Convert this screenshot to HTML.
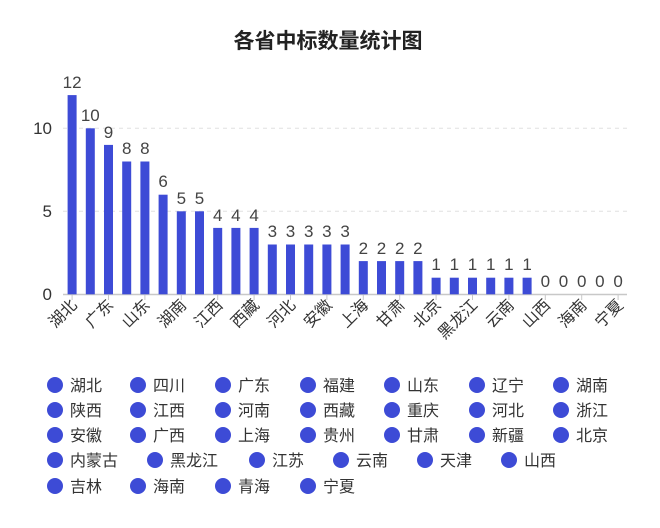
<!DOCTYPE html>
<html><head><meta charset="utf-8"><style>
html,body{margin:0;padding:0;background:#fff;}
svg{display:block;font-family:"Liberation Sans","Noto Sans CJK SC",sans-serif;}
</style></head><body>
<svg width="660" height="528" viewBox="0 0 660 528">
<text x="328" y="48" text-anchor="middle" font-size="21" font-weight="bold" fill="#222">各省中标数量统计图</text>
<g stroke="#e0e0e0" stroke-dasharray="4,4"><line x1="63" y1="128.3" x2="627" y2="128.3"/><line x1="63" y1="211.3" x2="627" y2="211.3"/></g>
<g font-size="17" fill="#333" text-anchor="end"><text x="52" y="300">0</text><text x="52" y="217">5</text><text x="52" y="134">10</text></g>
<line x1="63" y1="294.5" x2="627" y2="294.5" stroke="#c8c8c8" stroke-width="1.5"/>
<g stroke="#c8c8c8">
<line x1="72.1" y1="295" x2="72.1" y2="300"/><line x1="108.5" y1="295" x2="108.5" y2="300"/><line x1="144.9" y1="295" x2="144.9" y2="300"/><line x1="181.3" y1="295" x2="181.3" y2="300"/><line x1="217.7" y1="295" x2="217.7" y2="300"/><line x1="254.1" y1="295" x2="254.1" y2="300"/><line x1="290.5" y1="295" x2="290.5" y2="300"/><line x1="326.9" y1="295" x2="326.9" y2="300"/><line x1="363.3" y1="295" x2="363.3" y2="300"/><line x1="399.7" y1="295" x2="399.7" y2="300"/><line x1="436.1" y1="295" x2="436.1" y2="300"/><line x1="472.5" y1="295" x2="472.5" y2="300"/><line x1="508.9" y1="295" x2="508.9" y2="300"/><line x1="545.3" y1="295" x2="545.3" y2="300"/><line x1="581.7" y1="295" x2="581.7" y2="300"/><line x1="618.1" y1="295" x2="618.1" y2="300"/>
</g>
<g fill="#3d4bd6">
<rect x="67.6" y="95.1" width="9" height="199.2"/>
<rect x="85.8" y="128.3" width="9" height="166"/>
<rect x="104" y="144.9" width="9" height="149.4"/>
<rect x="122.2" y="161.5" width="9" height="132.8"/>
<rect x="140.4" y="161.5" width="9" height="132.8"/>
<rect x="158.6" y="194.7" width="9" height="99.6"/>
<rect x="176.8" y="211.3" width="9" height="83"/>
<rect x="195" y="211.3" width="9" height="83"/>
<rect x="213.2" y="227.9" width="9" height="66.4"/>
<rect x="231.4" y="227.9" width="9" height="66.4"/>
<rect x="249.6" y="227.9" width="9" height="66.4"/>
<rect x="267.8" y="244.5" width="9" height="49.8"/>
<rect x="286" y="244.5" width="9" height="49.8"/>
<rect x="304.2" y="244.5" width="9" height="49.8"/>
<rect x="322.4" y="244.5" width="9" height="49.8"/>
<rect x="340.6" y="244.5" width="9" height="49.8"/>
<rect x="358.8" y="261.1" width="9" height="33.2"/>
<rect x="377" y="261.1" width="9" height="33.2"/>
<rect x="395.2" y="261.1" width="9" height="33.2"/>
<rect x="413.4" y="261.1" width="9" height="33.2"/>
<rect x="431.6" y="277.7" width="9" height="16.6"/>
<rect x="449.8" y="277.7" width="9" height="16.6"/>
<rect x="468" y="277.7" width="9" height="16.6"/>
<rect x="486.2" y="277.7" width="9" height="16.6"/>
<rect x="504.4" y="277.7" width="9" height="16.6"/>
<rect x="522.6" y="277.7" width="9" height="16.6"/>
</g>
<g font-size="17" fill="#444" text-anchor="middle">
<text x="72.1" y="88">12</text><text x="90.3" y="121">10</text><text x="108.5" y="138">9</text><text x="126.7" y="154">8</text><text x="144.9" y="154">8</text><text x="163.1" y="187">6</text><text x="181.3" y="204">5</text><text x="199.5" y="204">5</text><text x="217.7" y="221">4</text><text x="235.9" y="221">4</text><text x="254.1" y="221">4</text><text x="272.3" y="237">3</text><text x="290.5" y="237">3</text><text x="308.7" y="237">3</text><text x="326.9" y="237">3</text><text x="345.1" y="237">3</text><text x="363.3" y="254">2</text><text x="381.5" y="254">2</text><text x="399.7" y="254">2</text><text x="417.9" y="254">2</text><text x="436.1" y="270">1</text><text x="454.3" y="270">1</text><text x="472.5" y="270">1</text><text x="490.7" y="270">1</text><text x="508.9" y="270">1</text><text x="527.1" y="270">1</text><text x="545.3" y="287">0</text><text x="563.5" y="287">0</text><text x="581.7" y="287">0</text><text x="599.9" y="287">0</text><text x="618.1" y="287">0</text>
</g>
<g font-size="16" fill="#333" text-anchor="end">
<text transform="translate(78,306) rotate(-45)">湖北</text>
<text transform="translate(114.5,306) rotate(-45)">广东</text>
<text transform="translate(151,306) rotate(-45)">山东</text>
<text transform="translate(187.3,306) rotate(-45)">湖南</text>
<text transform="translate(223.7,306) rotate(-45)">江西</text>
<text transform="translate(260.1,306) rotate(-45)">西藏</text>
<text transform="translate(296.5,306) rotate(-45)">河北</text>
<text transform="translate(332.9,306) rotate(-45)">安徽</text>
<text transform="translate(369.3,306) rotate(-45)">上海</text>
<text transform="translate(405.7,306) rotate(-45)">甘肃</text>
<text transform="translate(442.1,306) rotate(-45)">北京</text>
<text transform="translate(478.5,306) rotate(-45)">黑龙江</text>
<text transform="translate(514.9,306) rotate(-45)">云南</text>
<text transform="translate(551.3,306) rotate(-45)">山西</text>
<text transform="translate(587.7,306) rotate(-45)">海南</text>
<text transform="translate(624.1,306) rotate(-45)">宁夏</text>
</g>
<g fill="#3d4bd6">
<circle cx="55" cy="385" r="8"/><circle cx="138" cy="385" r="8"/><circle cx="223" cy="385" r="8"/><circle cx="308" cy="385" r="8"/><circle cx="392" cy="385" r="8"/><circle cx="477" cy="385" r="8"/><circle cx="561" cy="385" r="8"/>
<circle cx="55" cy="410" r="8"/><circle cx="138" cy="410" r="8"/><circle cx="223" cy="410" r="8"/><circle cx="308" cy="410" r="8"/><circle cx="392" cy="410" r="8"/><circle cx="477" cy="410" r="8"/><circle cx="561" cy="410" r="8"/>
<circle cx="55" cy="435" r="8"/><circle cx="138" cy="435" r="8"/><circle cx="223" cy="435" r="8"/><circle cx="308" cy="435" r="8"/><circle cx="392" cy="435" r="8"/><circle cx="477" cy="435" r="8"/><circle cx="561" cy="435" r="8"/>
<circle cx="55" cy="460" r="8"/><circle cx="155" cy="460" r="8"/><circle cx="257" cy="460" r="8"/><circle cx="341" cy="460" r="8"/><circle cx="425" cy="460" r="8"/><circle cx="509" cy="460" r="8"/>
<circle cx="55" cy="486" r="8"/><circle cx="138" cy="486" r="8"/><circle cx="223" cy="486" r="8"/><circle cx="308" cy="486" r="8"/>
</g>
<g font-size="16" fill="#333">
<text x="70" y="391">湖北</text><text x="153" y="391">四川</text><text x="238" y="391">广东</text><text x="323" y="391">福建</text><text x="407" y="391">山东</text><text x="492" y="391">辽宁</text><text x="576" y="391">湖南</text>
<text x="70" y="416">陕西</text><text x="153" y="416">江西</text><text x="238" y="416">河南</text><text x="323" y="416">西藏</text><text x="407" y="416">重庆</text><text x="492" y="416">河北</text><text x="576" y="416">浙江</text>
<text x="70" y="441">安徽</text><text x="153" y="441">广西</text><text x="238" y="441">上海</text><text x="323" y="441">贵州</text><text x="407" y="441">甘肃</text><text x="492" y="441">新疆</text><text x="576" y="441">北京</text>
<text x="70" y="466">内蒙古</text><text x="170" y="466">黑龙江</text><text x="272" y="466">江苏</text><text x="356" y="466">云南</text><text x="440" y="466">天津</text><text x="524" y="466">山西</text>
<text x="70" y="492">吉林</text><text x="153" y="492">海南</text><text x="238" y="492">青海</text><text x="323" y="492">宁夏</text>
</g>
</svg>
</body></html>
